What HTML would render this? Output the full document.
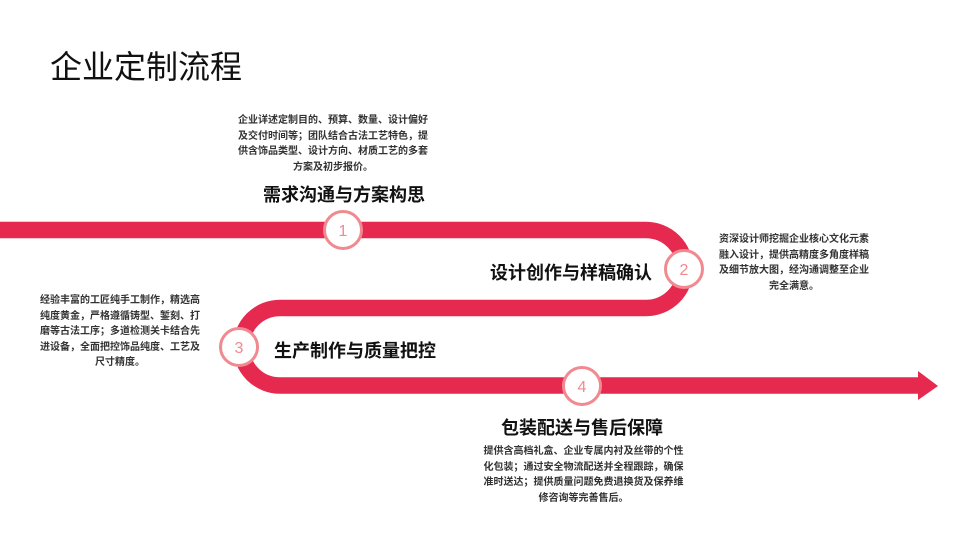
<!DOCTYPE html>
<html><head><meta charset="utf-8"><style>
body{margin:0;width:960px;height:540px;background:#fff;position:relative;overflow:hidden;font-family:"Liberation Sans","Noto Sans CJK SC",sans-serif;color:#222}
.t{position:absolute;white-space:nowrap}
.d{position:absolute;font-size:10px;line-height:15.5px;text-align:center;color:#333;font-weight:bold}
.h{position:absolute;font-size:18px;font-weight:bold;color:#111;white-space:nowrap}
</style></head><body>
<div class="t" style="left:50px;top:42px;font-size:32px;color:#111">企业定制流程</div>
<svg width="960" height="540" style="position:absolute;left:0;top:0">
<path d="M0 230 H646 A39 39 0 0 1 646 308 H280 A38.5 38.5 0 0 0 280 385.5 H920" fill="none" stroke="#e5294f" stroke-width="16.5"/>
<polygon points="918,371 938,386 918,400" fill="#e5294f"/>
<g fill="#fff" stroke="#f08a90" stroke-width="3">
<circle cx="343" cy="230" r="18.5"/><circle cx="684" cy="269" r="18.5"/><circle cx="239" cy="347" r="18.5"/><circle cx="582" cy="386" r="18.5"/></g>
<g fill="#f08a90" font-family="Liberation Sans,sans-serif" font-size="16" text-anchor="middle">
<text x="343" y="236">1</text><text x="684" y="275">2</text><text x="239" y="353">3</text><text x="582" y="392">4</text></g>
</svg>
<div class="d" style="left:233px;top:113px;width:200px">企业详述定制目的、预算、数量、设计偏好<br>及交付时间等；团队结合古法工艺特色，提<br>供含饰品类型、设计方向、材质工艺的多套<br>方案及初步报价。</div>
<div class="h" style="left:263px;top:181px">需求沟通与方案构思</div>
<div class="h" style="left:490px;top:259px">设计创作与样稿确认</div>
<div class="d" style="left:713px;top:232px;width:162px">资深设计师挖掘企业核心文化元素<br>融入设计，提供高精度多角度样稿<br>及细节放大图，经沟通调整至企业<br>完全满意。</div>
<div class="d" style="left:34px;top:293px;width:172px">经验丰富的工匠纯手工制作，精选高<br>纯度黄金，严格遵循铸型、錾刻、打<br>磨等古法工序；多道检测关卡结合先<br>进设备，全面把控饰品纯度、工艺及<br>尺寸精度。</div>
<div class="h" style="left:274px;top:337px">生产制作与质量把控</div>
<div class="h" style="left:501px;top:414px">包装配送与售后保障</div>
<div class="d" style="left:482px;top:444px;width:203px">提供含高档礼盒、企业专属内衬及丝带的个性<br>化包装；通过安全物流配送并全程跟踪，确保<br>准时送达；提供质量问题免费退换货及保养维<br>修咨询等完善售后。</div>
</body></html>
